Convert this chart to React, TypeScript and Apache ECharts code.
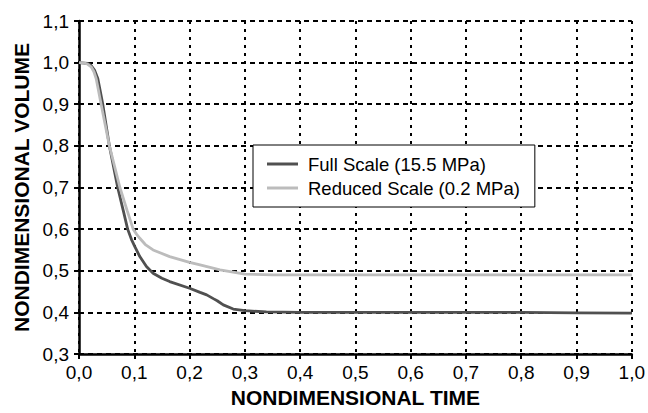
import React, { useEffect, useRef } from "react";
import * as echarts from "echarts";

const timeFull = [0, 0.01, 0.016, 0.022, 0.028, 0.034, 0.038, 0.043, 0.055, 0.07, 0.08, 0.088, 0.095, 0.101, 0.11, 0.122, 0.134, 0.15, 0.164, 0.2, 0.219, 0.231, 0.243, 0.25, 0.261, 0.279, 0.3, 0.339, 0.4, 0.5, 0.6, 0.7, 0.8, 0.9, 1.0];
const volumeFull = [1.0, 0.999, 0.998, 0.993, 0.982, 0.962, 0.935, 0.9, 0.8, 0.7, 0.645, 0.6, 0.575, 0.558, 0.534, 0.51, 0.494, 0.482, 0.474, 0.458, 0.448, 0.442, 0.433, 0.428, 0.418, 0.408, 0.404, 0.401, 0.4, 0.4, 0.4, 0.4, 0.4, 0.399, 0.398];

const timeReduced = [0, 0.01, 0.016, 0.022, 0.027, 0.031, 0.035, 0.04, 0.055, 0.074, 0.087, 0.098, 0.104, 0.11, 0.12, 0.134, 0.164, 0.2, 0.219, 0.255, 0.3, 0.35, 0.4, 0.5, 0.6, 0.7, 0.8, 0.9, 1.0];
const volumeReduced = [1.0, 0.999, 0.996, 0.99, 0.978, 0.962, 0.935, 0.9, 0.8, 0.7, 0.645, 0.6, 0.588, 0.578, 0.563, 0.55, 0.534, 0.52, 0.514, 0.502, 0.492, 0.49, 0.49, 0.49, 0.49, 0.49, 0.49, 0.49, 0.49];

const seriesNames = ["Full Scale (15.5 MPa)", "Reduced Scale (0.2 MPa)"];
const xTickLabels = ["0,0", "0,1", "0,2", "0,3", "0,4", "0,5", "0,6", "0,7", "0,8", "0,9", "1,0"];
const yTickLabels = ["0,3", "0,4", "0,5", "0,6", "0,7", "0,8", "0,9", "1,0", "1,1"];

const FONT = "'Liberation Sans', Arial, sans-serif";

export default function App() {
  const ref = useRef<HTMLDivElement>(null);
  useEffect(() => {
    if (!ref.current) return;
    const chart = echarts.init(ref.current, null, { renderer: "svg" });
    const pairs = (xs: number[], ys: number[]) => xs.map((x, i) => [x, ys[i]]);
    chart.setOption({
      animation: false,
      backgroundColor: "#fff",
      textStyle: { fontFamily: FONT },
      grid: { left: 79, right: 15, top: 21, bottom: 59, containLabel: false },
      legend: {
        orient: "vertical",
        left: 253,
        top: 145,
        padding: [9, 15, 9, 14],
        itemGap: 4,
        itemWidth: 31,
        itemHeight: 3,
        icon: "rect",
        borderColor: "#000",
        borderWidth: 1,
        backgroundColor: "#fff",
        formatter: (name: string) => `{s|}${name}`,
        textStyle: {
          fontSize: 18.5,
          lineHeight: 20,
          color: "#000",
          fontFamily: FONT,
          rich: { s: { width: 5 } },
        },
        data: seriesNames,
      },
      xAxis: {
        type: "value",
        min: 0,
        max: 1,
        interval: 0.1,
        name: "NONDIMENSIONAL TIME",
        nameLocation: "middle",
        nameGap: 26,
        nameTextStyle: { fontSize: 21, fontWeight: "bold", color: "#000", fontFamily: FONT },
        axisLine: { show: true, onZero: false, lineStyle: { color: "#000", width: 2.5 } },
        axisTick: { show: true, length: 5, lineStyle: { color: "#000", width: 2 } },
        axisLabel: {
          fontSize: 19,
          color: "#000",
          margin: 9,
          fontFamily: FONT,
          formatter: (v: number) => xTickLabels[Math.round(v * 10)],
        },
        splitLine: { show: true, lineStyle: { color: "#000", width: 2, type: [3, 5] } },
      },
      yAxis: {
        type: "value",
        min: 0.3,
        max: 1.1,
        interval: 0.1,
        name: "NONDIMENSIONAL VOLUME",
        nameLocation: "middle",
        nameGap: 47,
        nameTextStyle: { fontSize: 21, fontWeight: "bold", color: "#000", fontFamily: FONT },
        axisLine: { show: true, onZero: false, lineStyle: { color: "#000", width: 2.5 } },
        axisTick: { show: true, length: 5, lineStyle: { color: "#000", width: 2 } },
        axisLabel: {
          fontSize: 19,
          color: "#000",
          margin: 10,
          fontFamily: FONT,
          formatter: (v: number) => yTickLabels[Math.round(v * 10) - 3],
        },
        splitLine: { show: true, lineStyle: { color: "#000", width: 2, type: [5, 4] } },
      },
      series: [
        {
          name: seriesNames[0],
          type: "line",
          data: pairs(timeFull, volumeFull),
          showSymbol: false,
          symbol: "none",
          color: "#505050",
          lineStyle: { color: "#505050", width: 2.8 },
        },
        {
          name: seriesNames[1],
          type: "line",
          data: pairs(timeReduced, volumeReduced),
          showSymbol: false,
          symbol: "none",
          color: "#bcbcbc",
          lineStyle: { color: "#bcbcbc", width: 2.8 },
        },
      ],
    });
    return () => chart.dispose();
  }, []);
  return <div ref={ref} style={{ position: "fixed", left: 0, top: 0, width: 648, height: 413 }} />;
}
